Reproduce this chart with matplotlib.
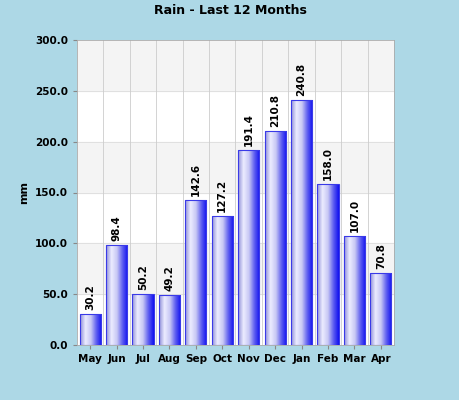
import matplotlib
matplotlib.use("Agg")
import matplotlib.pyplot as plt
import numpy as np
from matplotlib.colors import LinearSegmentedColormap

months = ["May","Jun","Jul","Aug","Sep","Oct","Nov","Dec","Jan","Feb","Mar","Apr"]
rain = [30.2,98.4,50.2,49.2,142.6,127.2,191.4,210.8,240.8,158.0,107.0,70.8]
yticks = [0,50,100,150,200,250,300]

fig = plt.figure(figsize=(4.6,4.0), dpi=100, facecolor="#add8e6")
ax = fig.add_axes([77/460, 1-345/400, (394-77)/460, (345-40)/400])
ax.set_facecolor("white")
n = len(months)
ax.set_xlim(-0.5, n-0.5)
ax.set_ylim(0, 300)
for i in range(len(yticks)-1):
    if i % 2 == 1:
        ax.axhspan(yticks[i], yticks[i+1], color="#f4f4f4", zorder=0)
for y in yticks[1:-1]:
    ax.axhline(y, color="#dddddd", lw=0.6, zorder=0.5)
for x in np.arange(0.5, n-0.5, 1):
    ax.axvline(x, color="#cccccc", lw=0.6, zorder=0.5)

cmap = LinearSegmentedColormap.from_list("g", ["#8f8fd8","#ececff","#c8c8f4","#6060f0","#1010f0"])
grad = np.linspace(0,1,100).reshape(1,-1)
w = 0.8
bars = ax.bar(range(n), rain, width=w, color="none", edgecolor="#3a3ae8", lw=0.8, zorder=3)
for i, (b, v) in enumerate(zip(bars, rain)):
    im = ax.imshow(grad, cmap=cmap, aspect="auto", extent=[i-w/2, i+w/2, 0, v], zorder=2)
    im.set_clip_path(b)
    ax.text(i, v+4, f"{v:.1f}", rotation=90, ha="center", va="bottom", fontsize=7.5, fontweight="bold")
ax.set_xlim(-0.5, n-0.5)
ax.set_ylim(0, 300)
ax.set_xticks(range(n))
ax.set_xticklabels(months, fontsize=7.5, fontweight="bold")
ax.set_yticks(yticks)
ax.set_yticklabels([f"{v:.1f}" for v in yticks], fontsize=7.5, fontweight="bold")
ax.tick_params(length=3, color="#888888")
ax.set_ylabel("mm", fontsize=8, fontweight="bold")
for s in ax.spines.values():
    s.set_color("#aaaaaa"); s.set_linewidth(0.6)
fig.text(230/460, 1-11/400, "Rain - Last 12 Months", ha="center", va="center", fontsize=9, fontweight="bold")
fig.savefig("out.png", dpi=100, facecolor=fig.get_facecolor())
